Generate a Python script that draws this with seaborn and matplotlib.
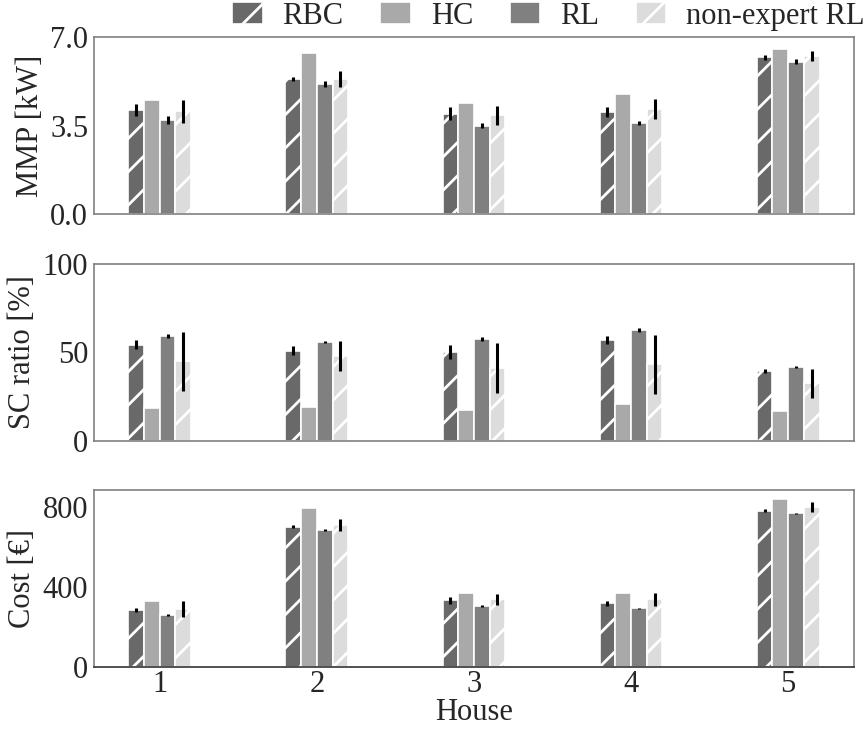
import numpy as np
import pandas as pd
import matplotlib
matplotlib.use('Agg')
import matplotlib.pyplot as plt
from matplotlib.patches import Patch
import seaborn as sns

houses = ['1', '2', '3', '4', '5']
controllers = ['RBC', 'HC', 'RL', 'non-expert RL']
colors = ['#696969', '#a9a9a9', '#808080', '#dcdcdc']
hatches = ['//', '', '', '//']

# MMP [kW]
mmp_rbc = [4.13, 5.34, 3.98, 4.04, 6.21]
mmp_hc = [4.50, 6.38, 4.41, 4.74, 6.53]
mmp_rl = [3.74, 5.15, 3.50, 3.61, 6.04]
mmp_ne = [4.07, 5.35, 3.91, 4.17, 6.27]
mmp_rbc_err = [0.24, 0.08, 0.26, 0.20, 0.10]
mmp_rl_err = [0.16, 0.12, 0.10, 0.08, 0.10]
mmp_ne_err = [0.45, 0.30, 0.36, 0.40, 0.20]

# SC ratio [%]
sc_rbc = [54.4, 51.0, 50.1, 57.0, 39.5]
sc_hc = [18.4, 19.4, 17.3, 21.0, 17.1]
sc_rl = [59.2, 55.7, 57.4, 62.7, 41.7]
sc_ne = [44.9, 47.9, 41.2, 43.2, 32.4]
sc_rbc_err = [2.5, 2.5, 3.9, 2.5, 1.0]
sc_rl_err = [1.0, 0.5, 1.1, 1.0, 0.5]
sc_ne_err = [16.8, 8.7, 14.0, 16.8, 8.4]

# Cost [EUR]
cost_rbc = [287, 704, 335, 320, 783]
cost_hc = [330, 798, 371, 370, 843]
cost_rl = [262, 687, 307, 295, 770]
cost_ne = [292, 712, 340, 340, 802]
cost_rbc_err = [9, 6, 16, 11, 7]
cost_rl_err = [6, 5, 3, 3, 3]
cost_ne_err = [40, 30, 28, 33, 27]

no_err = [0, 0, 0, 0, 0]

panels = [
    ('MMP [kW]', [mmp_rbc, mmp_hc, mmp_rl, mmp_ne],
     [mmp_rbc_err, no_err, mmp_rl_err, mmp_ne_err], (0, 7.0), [0, 3.5, 7.0], '{:.1f}'),
    ('SC ratio [%]', [sc_rbc, sc_hc, sc_rl, sc_ne],
     [sc_rbc_err, no_err, sc_rl_err, sc_ne_err], (0, 100), [0, 50, 100], '{:.0f}'),
    ('Cost [€]', [cost_rbc, cost_hc, cost_rl, cost_ne],
     [cost_rbc_err, no_err, cost_rl_err, cost_ne_err], (0, 885), [0, 400, 800], '{:.0f}'),
]

sns.set_theme(style='white')
plt.rcParams['font.family'] = ['Liberation Serif', 'DejaVu Serif']
plt.rcParams['hatch.linewidth'] = 1.0

fs = 11

fig, axes = plt.subplots(3, 1, figsize=(4.34, 3.655), dpi=200)
fig.subplots_adjust(left=0.108, right=0.984, top=0.949, bottom=0.087, hspace=0.28)

for ax, (ylabel, vals, errs, ylim, yticks, fmt) in zip(axes, panels):
    rows = []
    for c, v in zip(controllers, vals):
        for h, y in zip(houses, v):
            rows.append({'House': h, 'controller': c, 'value': y})
    df = pd.DataFrame(rows)
    sns.barplot(data=df, x='House', y='value', hue='controller',
                hue_order=controllers, order=houses, palette=colors,
                width=0.4, edgecolor='white', linewidth=0.6,
                errorbar=None, legend=False, ax=ax)
    for cont, hatch, err, v in zip(ax.containers, hatches, errs, vals):
        xs = []
        for p in cont.patches:
            p.set_hatch(hatch)
            xs.append(p.get_x() + p.get_width() / 2)
        e = np.array(err, dtype=float)
        mask = e > 0
        if mask.any():
            ax.errorbar(np.array(xs)[mask], np.array(v)[mask], yerr=e[mask],
                        fmt='none', ecolor='black', elinewidth=1.1,
                        capsize=0, zorder=5)
    ax.set_xlim(-0.42, 4.42)
    ax.set_ylim(*ylim)
    ax.set_yticks(yticks)
    ax.set_yticklabels([fmt.format(t) for t in yticks])
    ax.set_ylabel(ylabel, fontsize=fs, labelpad=2)
    ax.tick_params(axis='y', length=0, labelsize=fs, pad=2)
    ax.tick_params(axis='x', length=0, labelsize=fs, pad=1)
    for s in ax.spines.values():
        s.set_color('#808080')
        s.set_linewidth(0.6)
    if ax is not axes[-1]:
        ax.set_xlabel('')
        ax.set_xticklabels([])
    else:
        ax.set_xlabel('House', fontsize=fs, labelpad=-0.5)
        ax.spines['bottom'].set_color('#333333')

handles = [Patch(facecolor=c, edgecolor='white', hatch=h, linewidth=0.6, label=l)
           for c, h, l in zip(colors, hatches, controllers)]
axes[0].legend(handles=handles, loc='lower right', bbox_to_anchor=(1.018, 1.02),
               ncol=4, frameon=False, fontsize=fs, handlelength=1.0,
               handleheight=0.7, handletextpad=0.65, columnspacing=1.2,
               borderpad=0.1, borderaxespad=0)

fig.savefig('out.png', dpi=200)
